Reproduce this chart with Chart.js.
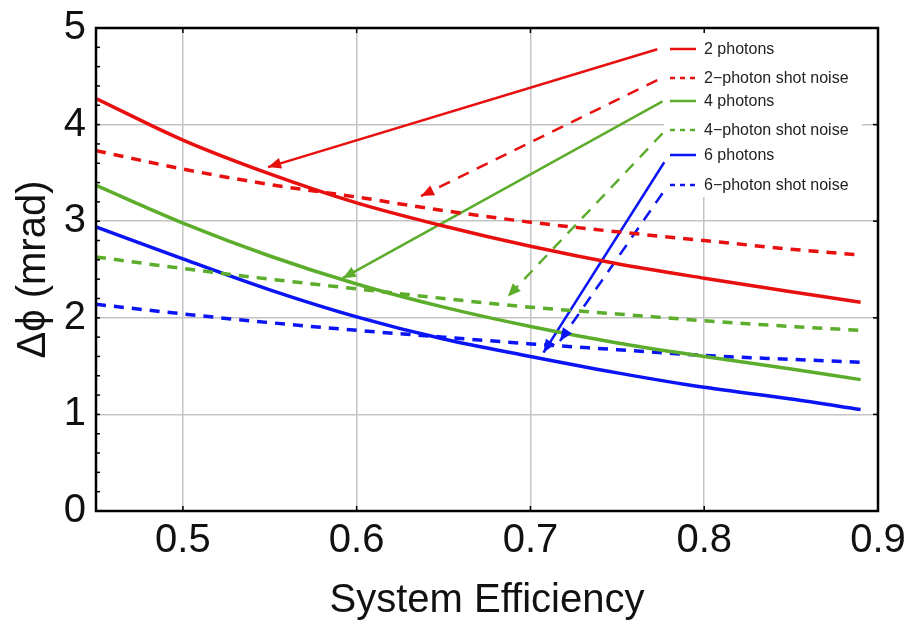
<!DOCTYPE html>
<html>
<head>
<meta charset="utf-8">
<script src="https://cdn.jsdelivr.net/npm/chart.js@4.4.1/dist/chart.umd.min.js"></script>
<style>
  body { margin: 0; background: #fff; }
</style>
</head>
<body>
<canvas id="myChart" width="907" height="625"></canvas>
<script>
// x values (system efficiency)
const efficiency = [0.45, 0.5, 0.55, 0.6, 0.65, 0.7, 0.75, 0.8, 0.85, 0.89];

// curves (mrad)
const twoPhotons   = [4.27, 3.84, 3.49, 3.19, 2.95, 2.74, 2.56, 2.41, 2.27, 2.16];
const twoShot      = [3.73, 3.54, 3.38, 3.25, 3.11, 2.99, 2.89, 2.80, 2.71, 2.65];
const fourPhotons  = [3.37, 2.98, 2.64, 2.35, 2.11, 1.91, 1.74, 1.60, 1.47, 1.36];
const fourShot     = [2.63, 2.51, 2.40, 2.30, 2.20, 2.11, 2.04, 1.97, 1.91, 1.87];
const sixPhotons   = [2.94, 2.61, 2.29, 2.01, 1.78, 1.60, 1.43, 1.28, 1.16, 1.05];
const sixShot      = [2.14, 2.04, 1.95, 1.87, 1.80, 1.73, 1.67, 1.61, 1.57, 1.54];

const seriesLabels = ['2 photons', '2\u2212photon shot noise', '4 photons',
                      '4\u2212photon shot noise', '6 photons', '6\u2212photon shot noise'];
const xTicks = [0.5, 0.6, 0.7, 0.8, 0.9];

// arrows from the legend to each curve [x, y]
const arrowFrom = [[0.773, 4.78], [0.773, 4.46], [0.776, 4.24], [0.776, 3.91], [0.777, 3.61], [0.776, 3.29]];
const arrowTo   = [[0.549, 3.56], [0.637, 3.26], [0.592, 2.41], [0.687, 2.22], [0.7075, 1.64], [0.717, 1.76]];

const RED = '#e8100f';
const GREEN = '#5dad2c';
const BLUE = '#0a14f5';
const seriesColors = [RED, RED, GREEN, GREEN, BLUE, BLUE];
const seriesDashed = [false, true, false, true, false, true];
const seriesValues = [twoPhotons, twoShot, fourPhotons, fourShot, sixPhotons, sixShot];

let datasets = [];

seriesValues.forEach((vals, i) => {
  datasets.push({
    label: seriesLabels[i],
    data: efficiency.map((x, j) => ({ x: x, y: vals[j] })),
    borderColor: seriesColors[i],
    borderWidth: 3.5,
    borderDash: seriesDashed[i] ? [10, 8] : [],
    pointRadius: 0,
    fill: false,
    cubicInterpolationMode: 'monotone'
  });
});

arrowFrom.forEach((p, i) => {
  datasets.push({
    label: 'arrow' + i,
    data: [{ x: p[0], y: p[1] }, { x: arrowTo[i][0], y: arrowTo[i][1] }],
    borderColor: seriesColors[i],
    borderWidth: 2.5,
    borderDash: seriesDashed[i] ? [12, 9] : [],
    pointRadius: 0,
    tension: 0,
    fill: false
  });
});

// legend box, arrowheads, frame
const decorPlugin = {
  id: 'decor',
  beforeDatasetsDraw(chart) {
    const c = chart.ctx;
    c.save();
    c.fillStyle = '#fff';
    c.fillRect(664, 29, 198, 168);
    c.restore();
  },
  afterDatasetsDraw(chart) {
    const c = chart.ctx;
    const xs = chart.scales.x, ys = chart.scales.y;
    const a = chart.chartArea;

    // arrowheads
    arrowFrom.forEach((p, i) => {
      let x0 = xs.getPixelForValue(p[0]), y0 = ys.getPixelForValue(p[1]);
      let x1 = xs.getPixelForValue(arrowTo[i][0]), y1 = ys.getPixelForValue(arrowTo[i][1]);
      let ang = Math.atan2(y1 - y0, x1 - x0);
      c.save();
      c.translate(x1, y1);
      c.rotate(ang);
      c.fillStyle = seriesColors[i];
      c.beginPath();
      c.moveTo(0, 0);
      c.lineTo(-13, -5.5);
      c.lineTo(-13, 5.5);
      c.closePath();
      c.fill();
      c.restore();
    });

    // legend
    const rows = [49, 78, 101, 130, 155, 185];
    c.save();
    c.font = '16px "Liberation Sans", Arial, sans-serif';
    c.textBaseline = 'middle';
    rows.forEach((y, i) => {
      c.strokeStyle = seriesColors[i];
      c.lineWidth = 2.5;
      c.setLineDash(seriesDashed[i] ? [5, 5] : []);
      c.beginPath();
      c.moveTo(670, y);
      c.lineTo(696, y);
      c.stroke();
      c.fillStyle = '#222';
      c.fillText(seriesLabels[i], 704, y + 1);
    });
    c.restore();

    // frame + ticks
    c.save();
    c.strokeStyle = '#000';
    c.lineWidth = 1.5;
    for (let v = 0.2; v < 5; v += 0.2) {
      let y = ys.getPixelForValue(v);
      c.beginPath();
      c.moveTo(a.left, y);
      c.lineTo(a.left + 4, y);
      c.stroke();
    }
    for (let v = 1; v < 5; v++) {
      let y = ys.getPixelForValue(v);
      c.beginPath();
      c.moveTo(a.right, y);
      c.lineTo(a.right - 5, y);
      c.stroke();
    }
    xTicks.forEach(v => {
      let x = xs.getPixelForValue(v);
      c.beginPath();
      c.moveTo(x, a.top);
      c.lineTo(x, a.top + 5);
      c.moveTo(x, a.bottom);
      c.lineTo(x, a.bottom - 5);
      c.stroke();
    });
    c.lineWidth = 2.5;
    c.strokeRect(a.left, a.top, a.right - a.left, a.bottom - a.top);
    c.restore();
  }
};

const ctx = document.querySelector('#myChart');
const font = '"Liberation Sans", Arial, sans-serif';

const charter = new Chart(ctx, {
  type: 'line',
  data: { datasets: datasets },
  plugins: [decorPlugin],
  options: {
    responsive: false,
    animation: false,
    layout: { padding: { top: 28, right: 29, left: 0, bottom: 0 } },
    plugins: {
      legend: { display: false },
      tooltip: { enabled: false }
    },
    scales: {
      x: {
        type: 'linear',
        min: 0.45,
        max: 0.9,
        afterBuildTicks: s => { s.ticks = xTicks.map(v => ({ value: v })); },
        afterFit: s => {
          s.height = 114;
          s.paddingLeft = 0;
          s.paddingRight = 0;
        },
        border: { display: false },
        grid: { color: '#c4c4c4', lineWidth: 1.5, drawTicks: false },
        ticks: {
          padding: 6,
          maxRotation: 0,
          color: '#111',
          font: { family: font, size: 40 },
          callback: v => v.toFixed(1)
        },
        title: {
          display: true,
          text: 'System Efficiency',
          color: '#111',
          font: { family: font, size: 40 },
          padding: { top: 0, bottom: 0 }
        }
      },
      y: {
        min: 0,
        max: 5,
        afterFit: s => {
          s.width = 96;
          s.paddingTop = 0;
          s.paddingBottom = 0;
        },
        border: { display: false },
        grid: { color: '#c4c4c4', lineWidth: 1.5, drawTicks: false },
        ticks: {
          stepSize: 1,
          padding: 10,
          color: '#111',
          font: { family: font, size: 40 }
        },
        title: {
          display: true,
          text: '\u0394\u03d5 (mrad)',
          color: '#111',
          font: { family: font, size: 40 },
          padding: { top: 10, bottom: 0 }
        }
      }
    }
  }
});
</script>
</body>
</html>
